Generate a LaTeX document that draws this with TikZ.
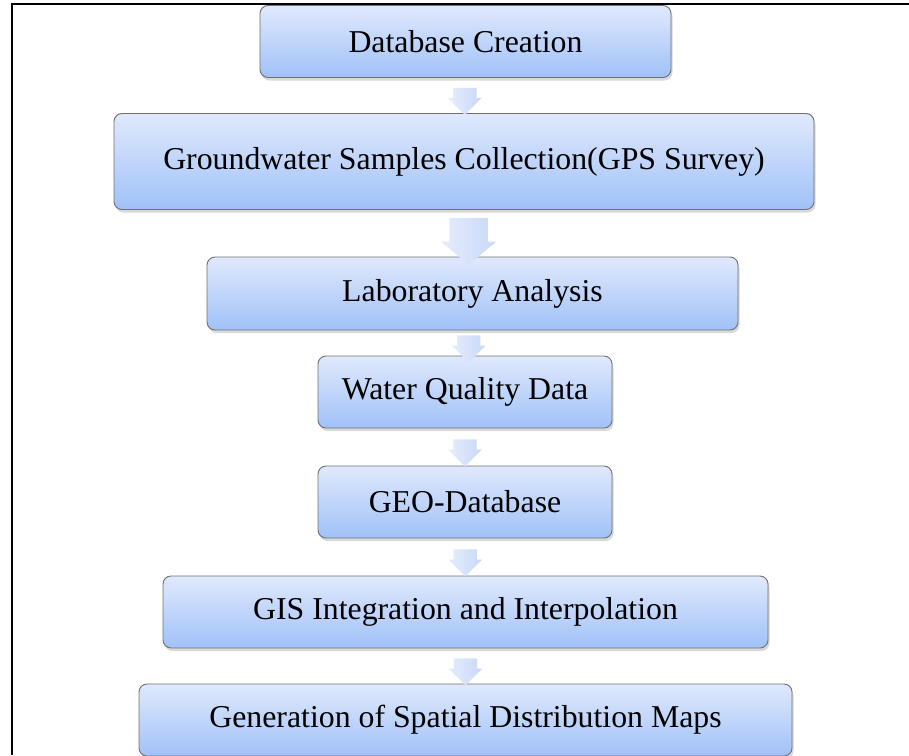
\documentclass[tikz,border=0pt]{standalone}
\usepackage{fontspec}
\setmainfont{Liberation Serif}
\usepackage{tikz}
\usetikzlibrary{shapes.arrows, shadows}
\definecolor{boxtop}{RGB}{224,233,252}
\definecolor{boxbot}{RGB}{160,193,248}
\definecolor{boxline}{RGB}{112,112,112}
\definecolor{arrtop}{RGB}{230,237,252}
\definecolor{arrbot}{RGB}{200,216,248}
\tikzstyle{stepbox} = [rectangle, rounded corners=8pt, minimum height=72pt, text centered, draw=boxline, line width=0.9pt, top color=boxtop, bottom color=boxbot, drop shadow={shadow xshift=1.5pt, shadow yshift=-3pt, opacity=0.3}, font=\fontsize{31.8}{38}\selectfont]
\tikzstyle{downarrow} = [single arrow, rotate=-90, inner xsep=0pt, inner ysep=11.5pt, single arrow head indent=0pt, left color=arrtop, right color=arrbot, draw=none, minimum height=27pt, single arrow head extend=5pt]
\tikzstyle{bigarrow} = [downarrow, inner ysep=19pt, minimum height=47pt, single arrow head extend=8.5pt, single arrow tip angle=100]

\begin{document}
\begin{tikzpicture}[node distance=110pt, x=1pt, y=1pt]
    \useasboundingbox (0,0) rectangle (909,-755);
    \draw [line width=2pt] (12,-755) |- (909,-4);
    \node (db) [stepbox, minimum width=411pt] at (465.5,-41.5) {Database Creation};
    \node (gw) [stepbox, below of=db, yshift=-10pt, xshift=-1.5pt, minimum width=700pt, minimum height=96pt] {Groundwater Samples Collection(GPS Survey)};
    \node (lab) [stepbox, below of=gw, yshift=-22pt, xshift=8.5pt, minimum width=531pt, minimum height=73pt] {Laboratory Analysis};
    \node (wq) [stepbox, below of=lab, yshift=11.5pt, xshift=-7.5pt, minimum width=294pt] {Water Quality Data};
    \node (geo) [stepbox, below of=wq, minimum width=294pt] {GEO-Database};
    \node (gis) [stepbox, below of=geo, xshift=0.5pt, minimum width=605pt] {GIS Integration and Interpolation};
    \node (gen) [stepbox, below of=gis, yshift=2pt, minimum width=653pt] {Generation of Spatial Distribution Maps};
    \path (db) -- node [downarrow] {} (gw);
    \path (gw) -- node [bigarrow] {} (lab);
    \path (lab) -- node [downarrow] {} (wq);
    \path (wq) -- node [downarrow] {} (geo);
    \path (geo) -- node [downarrow] {} (gis);
    \path (gis) -- node [downarrow] {} (gen);
\end{tikzpicture}
\end{document}
